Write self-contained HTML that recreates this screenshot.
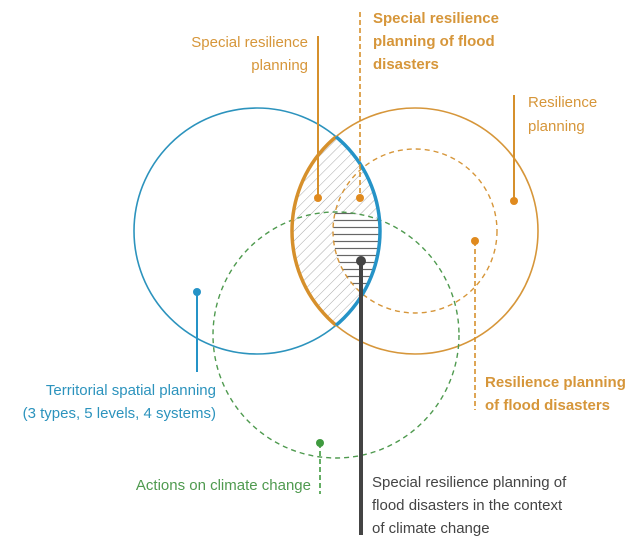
<!DOCTYPE html>
<html><head><meta charset="utf-8"><style>
html,body{margin:0;padding:0;background:#fff;}
svg{display:block;}
text{font-family:"Liberation Sans",sans-serif;font-size:15px;}
</style></head><body>
<svg width="640" height="545" viewBox="0 0 640 545" xmlns="http://www.w3.org/2000/svg">
<defs>
<pattern id="diag" patternUnits="userSpaceOnUse" width="7" height="7" patternTransform="rotate(45)">
<line x1="0" y1="0" x2="0" y2="7" stroke="#aaa" stroke-width="1"/>
</pattern>
<pattern id="hor" patternUnits="userSpaceOnUse" width="10" height="7">
<line x1="0" y1="3.5" x2="10" y2="3.5" stroke="#666" stroke-width="1.2"/>
</pattern>
<clipPath id="cb"><circle cx="257" cy="231" r="123"/></clipPath>
<clipPath id="cs"><circle cx="415" cy="231" r="82"/></clipPath>
<clipPath id="cg"><circle cx="336" cy="335" r="123"/></clipPath>
<clipPath id="co"><circle cx="415" cy="231" r="123"/></clipPath>
</defs>
<g clip-path="url(#cb)"><circle cx="415" cy="231" r="123" fill="url(#diag)"/></g>
<g clip-path="url(#cb)"><g clip-path="url(#cs)"><g clip-path="url(#cg)"><rect x="280" y="100" width="200" height="300" fill="#fff"/><rect x="280" y="100" width="200" height="300" fill="url(#hor)"/></g></g></g>
<circle cx="257" cy="231" r="123" fill="none" stroke="#2c93bd" stroke-width="1.6"/>
<circle cx="415" cy="231" r="123" fill="none" stroke="#d6963a" stroke-width="1.6"/>
<circle cx="415" cy="231" r="82" fill="none" stroke="#d6963a" stroke-width="1.4" stroke-dasharray="5,4"/>
<circle cx="336" cy="335" r="123" fill="none" stroke="#4f9a4f" stroke-width="1.4" stroke-dasharray="5,4"/>
<g clip-path="url(#cb)"><circle cx="415" cy="231" r="123" fill="none" stroke="#d6902c" stroke-width="3.5"/></g>
<g clip-path="url(#co)"><circle cx="257" cy="231" r="123" fill="none" stroke="#2593c7" stroke-width="3.5"/></g>
<line x1="318" y1="36" x2="318" y2="198" stroke="#d6902c" stroke-width="2"/>
<circle cx="318" cy="198" r="4" fill="#e08a1e"/>
<line x1="360" y1="12" x2="360" y2="198" stroke="#d6902c" stroke-width="1.6" stroke-dasharray="5,3"/>
<circle cx="360" cy="198" r="4" fill="#e08a1e"/>
<line x1="514" y1="95" x2="514" y2="201" stroke="#d6902c" stroke-width="2"/>
<circle cx="514" cy="201" r="4" fill="#e08a1e"/>
<line x1="475" y1="241" x2="475" y2="410" stroke="#d6902c" stroke-width="1.6" stroke-dasharray="5,3"/>
<circle cx="475" cy="241" r="4" fill="#e08a1e"/>
<line x1="197" y1="292" x2="197" y2="372" stroke="#2593c7" stroke-width="2"/>
<circle cx="197" cy="292" r="4" fill="#2593c7"/>
<line x1="320" y1="443" x2="320" y2="494" stroke="#3f9a3f" stroke-width="1.6" stroke-dasharray="5,3"/>
<circle cx="320" cy="443" r="4" fill="#3f9a3f"/>
<line x1="361" y1="261" x2="361" y2="535" stroke="#444" stroke-width="4"/>
<circle cx="361" cy="261" r="5" fill="#444"/>
<g fill="#d6963a">
<text x="308" y="47" text-anchor="end">Special resilience</text>
<text x="308" y="70" text-anchor="end">planning</text>
<text x="373" y="23" font-weight="bold">Special resilience</text>
<text x="373" y="46" font-weight="bold">planning of flood</text>
<text x="373" y="69" font-weight="bold">disasters</text>
<text x="528" y="107">Resilience</text>
<text x="528" y="131">planning</text>
<text x="485" y="387" font-weight="bold">Resilience planning</text>
<text x="485" y="410" font-weight="bold">of flood disasters</text>
</g>
<g fill="#2c93bd">
<text x="216" y="395" text-anchor="end">Territorial spatial planning</text>
<text x="216" y="418" text-anchor="end">(3 types, 5 levels, 4 systems)</text>
</g>
<text x="311" y="490" text-anchor="end" fill="#4f9a4f">Actions on climate change</text>
<g fill="#444">
<text x="372" y="487">Special resilience planning of</text>
<text x="372" y="510">flood disasters in the context</text>
<text x="372" y="533">of climate change</text>
</g>
</svg>
</body></html>
